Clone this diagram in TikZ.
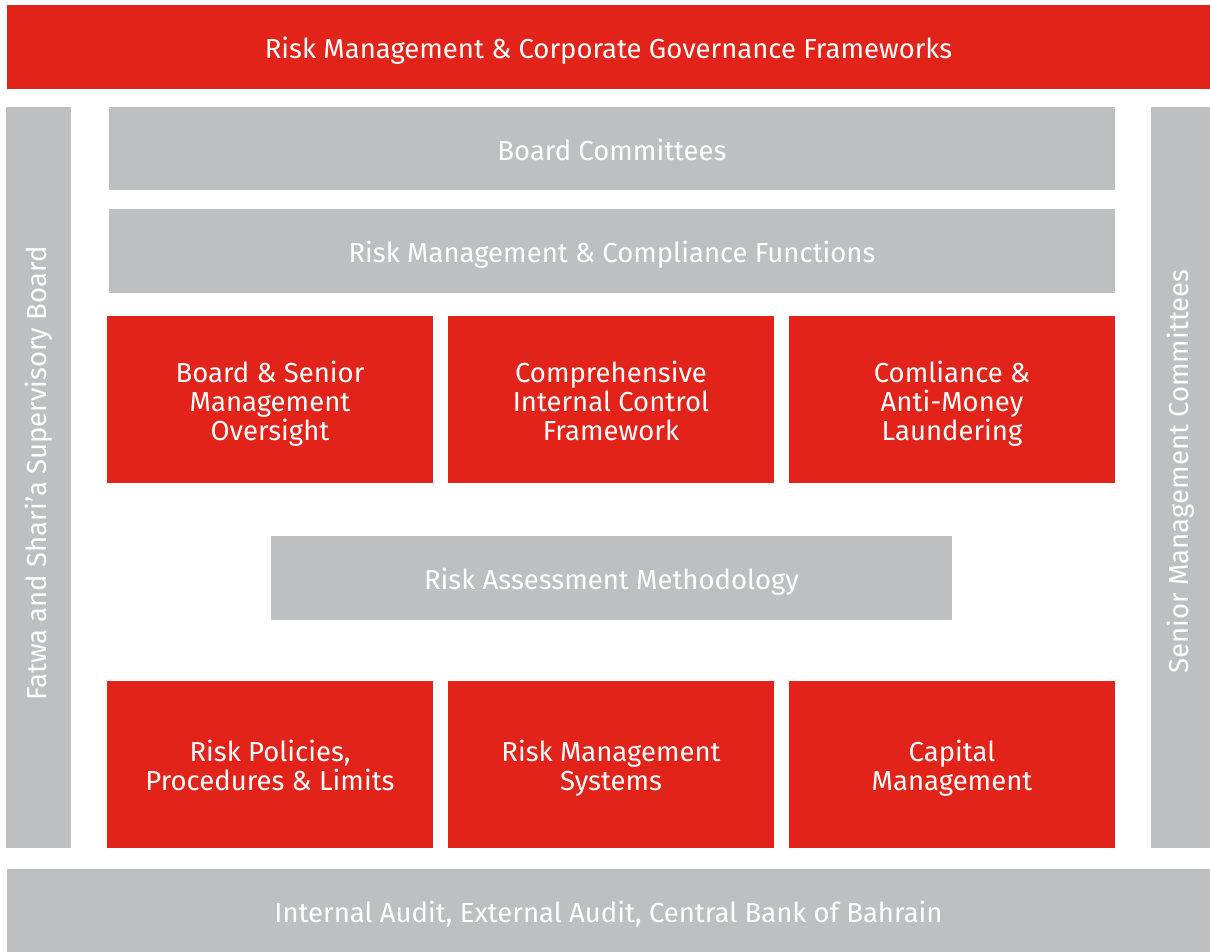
\documentclass[tikz,border=0pt]{standalone}
\usepackage{fontspec}
\setmainfont{Fira Sans}
\definecolor{frred}{HTML}{E2231A}
\definecolor{frgray}{HTML}{BEBFC1}
\begin{document}
\begin{tikzpicture}[x=1pt,y=-1pt,
  panel/.style={inner sep=0pt, outer sep=0pt},
  redbox/.style={panel, fill=frred},
  graybox/.style={panel, fill=frgray},
  lbl/.style={inner sep=0pt, text=white, align=center, yshift=-4pt,
    font=\fontsize{27.5}{29}\selectfont,
    execute at begin node={\vphantom{kgB}},
    execute at end node={\vphantom{kgB}}},
  vlbl/.style={inner sep=0pt, text=white, rotate=90,
    font=\fontsize{27.5}{29}\selectfont,
    execute at begin node={\vphantom{kgB}}},
  ]
\useasboundingbox (0,0) rectangle (1210,952);
\fill[white] (0,0) rectangle (1210,952);
% header and footer bands
\node[redbox, minimum width=1203, minimum height=84] (head) at (608.5,47) {};
\node[lbl] (headtxt) at (head) {Risk Management \& Corporate Governance Frameworks};
\node[graybox, minimum width=1203, minimum height=83] (foot) at (608.5,910.5) {};
\node[lbl] (foottxt) at (foot) {Internal Audit, External Audit, Central Bank of Bahrain};
% side pillars
\node[graybox, minimum width=65, minimum height=741] (fatwa) at (38.5,477.5) {};
\node[vlbl, xshift=4pt] (fatwatxt) at (fatwa) {Fatwa and Shari'a Supervisory Board};
\node[graybox, minimum width=59, minimum height=741] (senior) at (1180.5,477.5) {};
\node[vlbl, xshift=6pt] (seniortxt) at (senior) {Senior Management Committees};
% gray layers
\node[graybox, minimum width=1006, minimum height=83] (board) at (612,148.5) {};
\node[lbl] (boardtxt) at (board) {Board Committees};
\node[graybox, minimum width=1006, minimum height=84] (rmc) at (612,251) {};
\node[lbl] (rmctxt) at (rmc) {Risk Management \& Compliance Functions};
\node[graybox, minimum width=681, minimum height=84] (ram) at (611.5,578) {};
\node[lbl] (ramtxt) at (ram) {Risk Assessment Methodology};
% first row of red blocks
\node[redbox, minimum width=326, minimum height=167] (oversight) at (270,399.5) {};
\node[lbl] (oversighttxt) at (oversight) {Board \& Senior\\Management\\Oversight};
\node[redbox, minimum width=326, minimum height=167] (control) at (611,399.5) {};
\node[lbl] (controltxt) at (control) {Comprehensive\\Internal Control\\Framework};
\node[redbox, minimum width=326, minimum height=167] (aml) at (952,399.5) {};
\node[lbl] (amltxt) at (aml) {Comliance \&\\Anti-Money\\Laundering};
% second row of red blocks
\node[redbox, minimum width=326, minimum height=167] (policies) at (270,764.5) {};
\node[lbl] (policiestxt) at (policies) {Risk Policies,\\Procedures \& Limits};
\node[redbox, minimum width=326, minimum height=167] (systems) at (611,764.5) {};
\node[lbl] (systemstxt) at (systems) {Risk Management\\Systems};
\node[redbox, minimum width=326, minimum height=167] (capital) at (952,764.5) {};
\node[lbl] (capitaltxt) at (capital) {Capital\\Management};
\end{tikzpicture}
\end{document}
